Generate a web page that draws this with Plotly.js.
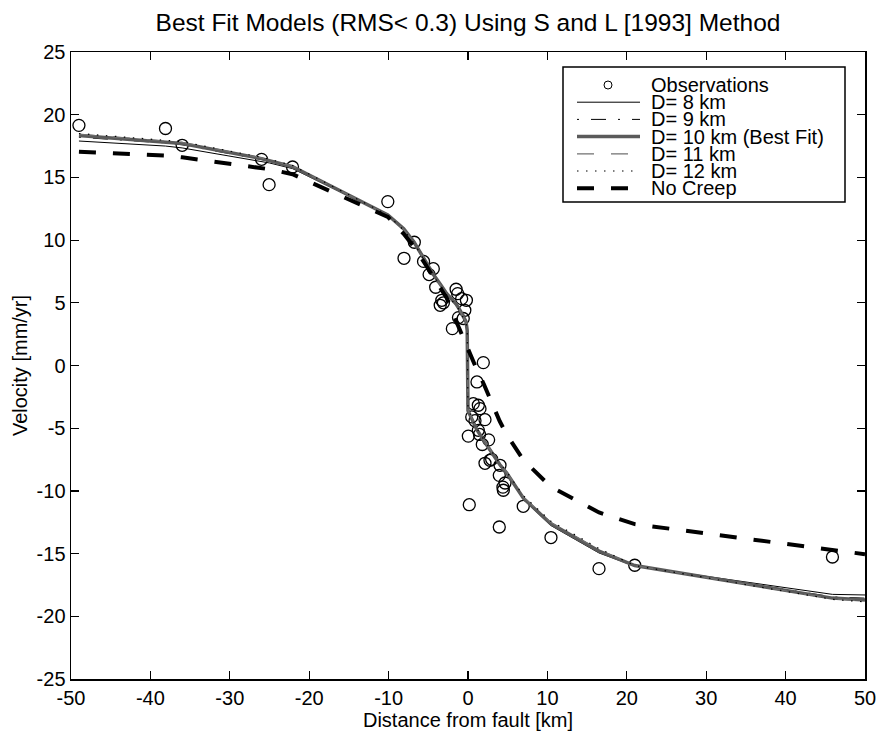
<!DOCTYPE html>
<html>
<head>
<meta charset="utf-8">
<script src="https://cdn.plot.ly/plotly-3.0.1.min.js"></script>
<style>html,body{margin:0;padding:0;background:#fff;}#chart{width:882px;height:735px;}</style>
</head>
<body>
<div id="chart"></div>
<script>
// ---------------- DATA ----------------
const obsX = [-49.0, -38.1, -36.0, -26.0, -25.05, -22.1, -10.1, -8.06, -6.76, -5.6, -4.9, -4.37, -4.07, -3.5, -3.3, -3.1,
  -1.97, -1.5, -1.3, -1.2, -0.8, -0.6, -0.4, -0.2, 0.04, 0.16, 0.47, 0.67, 0.88, 1.13, 1.3, 1.3, 1.45, 1.51, 1.8, 1.93,
  2.14, 2.14, 2.6, 2.77, 2.98, 3.94, 3.94, 4.03, 4.4, 4.45, 4.66, 6.96, 10.45, 16.5, 21.0, 45.9];
const obsY = [19.15, 18.9, 17.56, 16.44, 14.42, 15.83, 13.07, 8.55, 9.83, 8.3, 7.25, 7.72, 6.24, 4.8, 5.2, 5.0,
  2.94, 6.08, 5.73, 3.82, 5.33, 3.75, 4.4, 5.2, -5.63, -11.1, -4.1, -3.04, -4.4, -1.31, -3.17, -5.17, -5.5, -3.44, -6.3, 0.23,
  -4.32, -7.8, -5.93, -7.56, -7.48, -8.76, -12.88, -7.96, -9.7, -9.95, -9.37, -11.23, -13.72, -16.2, -15.93, -15.27];

const modelX = [-49, -38.1, -36, -26, -25, -22.1, -10.1, -8.1, -6.8, -5.6, -4.4, -3.4, -2.7, -1.5, -1.0, -0.25, -0.1, 0.0,
  0.5, 1.1, 2.0, 2.8, 4.0, 4.9, 7.0, 10.4, 16.5, 21.0, 45.9, 50];
const d8Y  = [17.9, 17.5, 17.35, 16.3, 16.15, 15.7, 12.0, 10.95, 9.95, 8.7, 7.4, 6.45, 5.8, 4.95, 4.45, 3.55, 2.9, -3.7,
  -4.4, -5.2, -6.1, -6.85, -8.0, -8.7, -10.7, -12.75, -14.95, -16.0, -18.25, -18.3];
const d9Y  = [18.2, 17.75, 17.6, 16.45, 16.3, 15.8, 12.0, 10.9, 9.9, 8.65, 7.35, 6.4, 5.75, 4.9, 4.4, 3.5, 2.85, -3.65,
  -4.35, -5.15, -6.05, -6.8, -7.95, -8.65, -10.65, -12.7, -14.85, -15.95, -18.45, -18.55];
const d10Y = [18.35, 17.85, 17.7, 16.5, 16.35, 15.85, 12.0, 10.9, 9.85, 8.6, 7.3, 6.4, 5.75, 4.9, 4.4, 3.5, 2.8, -3.6,
  -4.3, -5.1, -6.0, -6.75, -7.9, -8.6, -10.6, -12.6, -14.8, -15.95, -18.55, -18.7];
const d11Y = [18.45, 17.95, 17.8, 16.55, 16.4, 15.9, 12.0, 10.85, 9.8, 8.55, 7.25, 6.35, 5.7, 4.85, 4.35, 3.45, 2.75, -3.55,
  -4.25, -5.05, -5.95, -6.7, -7.85, -8.55, -10.5, -12.5, -14.7, -15.95, -18.6, -18.8];
const d12Y = [18.5, 18.0, 17.85, 16.6, 16.45, 15.95, 12.0, 10.8, 9.75, 8.5, 7.2, 6.3, 5.65, 4.8, 4.3, 3.4, 2.7, -3.5,
  -4.2, -5.0, -5.9, -6.65, -7.8, -8.5, -10.4, -12.4, -14.6, -15.95, -18.65, -18.85];
const noCreepY = [17.05, 16.75, 16.6, 15.75, 15.65, 15.25, 11.85, 10.5, 9.45, 8.3, 7.1, 6.2, 5.4, 3.55, 2.8, 1.65, 1.42, 1.27,
  0.5, -0.31, -1.5, -2.76, -4.45, -5.54, -7.55, -9.66, -11.72, -12.65, -14.7, -15.05];

const seriesNames = ['Observations', 'D= 8 km', 'D= 9 km', 'D= 10 km (Best Fit)', 'D= 11 km', 'D= 12 km', 'No Creep'];
const xTickVals = [-50, -40, -30, -20, -10, 0, 10, 20, 30, 40, 50];
const xTickLabels = ['-50', '-40', '-30', '-20', '-10', '0', '10', '20', '30', '40', '50'];
const yTickVals = [-25, -20, -15, -10, -5, 0, 5, 10, 15, 20, 25];
const yTickLabels = ['-25', '-20', '-15', '-10', '-5', '0', '5', '10', '15', '20', '25'];

// ---------------- STYLES ----------------
const FONT = 'Liberation Sans, Arial, Helvetica, sans-serif';
const lineStyles = [
  null,
  {color: '#000000', width: 1, dash: 'solid'},
  {color: '#000000', width: 1, dash: '2px,12px,15px,12px'},
  {color: '#5a5a5a', width: 3.5, dash: 'solid'},
  {color: '#707070', width: 1.2, dash: '17px,17px'},
  {color: '#000000', width: 1.2, dash: '1.5px,7.5px'},
  {color: '#000000', width: 4, dash: '17px,17px'}
];
const modelYs = [null, d8Y, d9Y, d10Y, d11Y, d12Y, noCreepY];

const traces = [];
traces.push({
  type: 'scatter', mode: 'markers', x: obsX, y: obsY, name: seriesNames[0],
  marker: {symbol: 'circle-open', size: 12, color: '#000000', line: {width: 1.3, color: '#000000'}},
  showlegend: false, hoverinfo: 'x+y'
});
for (let i = 1; i < seriesNames.length; i++) {
  traces.push({
    type: 'scatter', mode: 'lines', x: modelX, y: modelYs[i], name: seriesNames[i],
    line: lineStyles[i], showlegend: false
  });
}

// ---------------- LAYOUT ----------------
const M = {l: 71, r: 17, t: 52, b: 56};
const PW = 882 - M.l - M.r, PH = 735 - M.t - M.b;
const px2paperX = px => (px - M.l) / PW;
const px2paperY = py => (735 - M.b - py) / PH;

// manual legend (MATLAB style, tight rows)
const legendBox = {x0: 563, x1: 845, y0: 67, y1: 202};
const rowTop = 85, rowStep = 17.2, sampleX0 = 577, sampleX1 = 640, textX = 649, markerX = 608;
const shapes = [{
  type: 'rect', xref: 'paper', yref: 'paper',
  x0: px2paperX(legendBox.x0), x1: px2paperX(legendBox.x1),
  y0: px2paperY(legendBox.y1), y1: px2paperY(legendBox.y0),
  line: {color: '#000000', width: 1.5}, fillcolor: '#ffffff', layer: 'above'
}];
const annotations = [];
seriesNames.forEach((nm, i) => {
  const yc = px2paperY(rowTop + i * rowStep);
  if (i === 0) {
    shapes.push({type: 'circle', xref: 'paper', yref: 'paper', xsizemode: 'pixel', ysizemode: 'pixel',
      xanchor: px2paperX(markerX), yanchor: yc, x0: -4, x1: 4, y0: -4, y1: 4,
      line: {color: '#000000', width: 1}, layer: 'above'});
  } else {
    shapes.push({type: 'line', xref: 'paper', yref: 'paper',
      x0: px2paperX(sampleX0), x1: px2paperX(sampleX1), y0: yc, y1: yc,
      line: lineStyles[i], layer: 'above'});
  }
  annotations.push({xref: 'paper', yref: 'paper', x: px2paperX(textX), y: yc, xanchor: 'left', yanchor: 'middle',
    text: nm, showarrow: false, font: {family: FONT, size: 20, color: '#000000'}});
});

const axisCommon = {
  showline: true, linecolor: '#000000', linewidth: 1.5, mirror: 'ticks',
  ticks: 'inside', ticklen: 8, tickwidth: 1.2, tickcolor: '#000000',
  showgrid: false, zeroline: false, tickmode: 'array',
  tickfont: {family: FONT, size: 20, color: '#000000'}
};

const layout = {
  width: 882, height: 735,
  margin: M,
  paper_bgcolor: '#ffffff', plot_bgcolor: '#ffffff',
  showlegend: false,
  title: {text: 'Best Fit Models (RMS< 0.3) Using S and L [1993] Method',
    font: {family: FONT, size: 24.5, color: '#000000'},
    xref: 'paper', x: 0.5, xanchor: 'center', yref: 'container', y: 1 - 22 / 735, yanchor: 'middle'},
  xaxis: Object.assign({}, axisCommon, {
    range: [-50, 50], tickvals: xTickVals, ticktext: xTickLabels,
    title: {text: 'Distance from fault [km]', font: {family: FONT, size: 20, color: '#000000'}, standoff: 2}
  }),
  yaxis: Object.assign({}, axisCommon, {
    range: [-25, 25], tickvals: yTickVals, ticktext: yTickLabels,
    title: {text: 'Velocity [mm/yr]', font: {family: FONT, size: 20, color: '#000000'}, standoff: 3}
  }),
  shapes: shapes,
  annotations: annotations
};

Plotly.newPlot('chart', traces, layout, {displayModeBar: false, staticPlot: true});
</script>
</body>
</html>
